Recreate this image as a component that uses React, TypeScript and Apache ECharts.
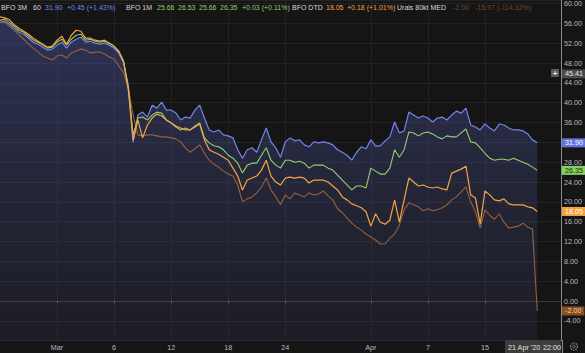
import React, { useEffect, useRef } from "react";
import * as echarts from "echarts";

// ---- data ----
const tradingDays = [
  "2020-02-25", "2020-02-26", "2020-02-27", "2020-02-28",
  "2020-03-02", "2020-03-03", "2020-03-04", "2020-03-05", "2020-03-06",
  "2020-03-09", "2020-03-10", "2020-03-11", "2020-03-12", "2020-03-13",
  "2020-03-16", "2020-03-17", "2020-03-18", "2020-03-19", "2020-03-20",
  "2020-03-23", "2020-03-24", "2020-03-25", "2020-03-26", "2020-03-27",
  "2020-03-30", "2020-03-31", "2020-04-01", "2020-04-02", "2020-04-03",
  "2020-04-06", "2020-04-07", "2020-04-08", "2020-04-09",
  "2020-04-14", "2020-04-15", "2020-04-16", "2020-04-17",
  "2020-04-20", "2020-04-21", "2020-04-22",
];
const sessions = ["02:00", "10:00", "18:00"];
const tickDates = ["2020-03-02", "2020-03-06", "2020-03-12", "2020-03-18", "2020-03-24", "2020-04-01", "2020-04-07", "2020-04-15"];
const tickLabels = ["Mar", "6", "12", "18", "24", "Apr", "7", "15"];

const bfo3m = [
  56.2, 56.4, 55.8, 55.0, 54.2, 53.8, 53.0, 52.2, 51.8, 51.2,
  50.6, 50.8, 51.6, 52.2, 51.0, 52.2, 52.8, 53.2, 52.2, 52.4,
  52.0, 51.8, 52.0, 51.6, 51.0, 50.0, 48.0, 43.5, 32.0, 37.5,
  38.1, 37.1, 39.5, 38.9, 40.1, 38.5, 38.5, 37.9, 36.5, 37.1,
  36.9, 38.5, 39.5, 36.9, 34.5, 34.1, 34.5, 33.5, 33.3, 32.9,
  30.5, 28.8, 30.5, 30.9, 30.0, 32.5, 34.9, 32.1, 30.9, 29.0,
  32.1, 32.9, 32.3, 32.5, 31.5, 31.1, 32.1, 31.9, 32.1, 31.9,
  31.5, 30.5, 30.0, 29.4, 28.4, 30.0, 31.1, 30.7, 32.5, 31.3,
  31.3, 32.3, 33.1, 36.1, 33.9, 34.3, 38.1, 37.5, 36.9, 37.3,
  36.9, 36.1, 36.9, 37.1, 36.5, 37.5, 38.3, 37.9, 38.9, 35.5,
  35.1, 34.5, 35.7, 34.9, 34.3, 35.7, 35.5, 34.9, 34.5, 34.5,
  34.3, 33.7, 32.5, 31.9,
];
const bfo1m = [
  56.6, 56.8, 56.2, 55.4, 54.6, 54.2, 53.4, 52.6, 52.2, 51.6,
  51.0, 51.2, 52.2, 52.8, 51.6, 52.8, 53.6, 53.8, 52.6, 52.8,
  52.4, 52.2, 52.4, 52.0, 51.4, 50.4, 48.4, 43.0, 33.5, 36.9,
  37.1, 36.5, 37.5, 38.1, 37.9, 36.5, 35.9, 35.1, 34.5, 34.9,
  34.5, 35.3, 35.9, 32.9, 31.9, 31.3, 31.1, 30.5, 29.4, 28.8,
  27.8, 25.8, 27.4, 27.8, 27.8, 29.4, 30.9, 28.4, 27.4, 26.8,
  28.4, 28.4, 28.0, 28.2, 27.8, 26.8, 27.4, 27.4, 27.4, 26.8,
  26.4, 25.4, 24.4, 23.4, 22.4, 23.2, 23.2, 22.8, 26.8, 26.2,
  25.6, 25.6, 26.8, 30.5, 29.0, 30.5, 34.1, 33.9, 33.3, 33.9,
  34.1, 33.7, 33.1, 32.7, 33.3, 33.1, 33.1, 33.9, 34.7, 32.1,
  31.9, 30.9, 29.8, 28.8, 28.4, 28.6, 28.6, 28.4, 28.8, 28.4,
  28.0, 27.6, 27.0, 26.35,
];
const bfoDtd = [
  57.3, 57.1, 56.7, 55.7, 55.0, 54.4, 53.8, 53.0, 52.4, 51.8,
  51.2, 51.4, 52.6, 53.4, 51.8, 53.6, 54.6, 54.4, 53.0, 53.0,
  52.6, 52.4, 52.6, 52.0, 51.4, 50.2, 48.2, 42.5, 32.5, 36.5,
  32.9, 35.5, 36.9, 37.7, 37.3, 36.5, 35.9, 35.3, 34.9, 34.5,
  34.5, 35.1, 35.7, 32.5, 30.5, 30.0, 29.6, 29.0, 28.4, 26.8,
  25.2, 22.4, 24.4, 24.8, 25.2, 26.4, 28.4, 25.2, 24.0, 23.4,
  24.8, 25.0, 24.8, 25.0, 24.8, 23.8, 24.4, 24.4, 24.4, 24.0,
  23.2, 22.4, 21.0, 20.4, 19.6, 19.2, 18.8, 18.0, 15.1, 17.6,
  15.9, 15.5, 16.3, 20.4, 15.9, 20.4, 24.8, 24.0, 23.2, 23.4,
  23.0, 22.8, 23.0, 22.6, 22.4, 25.8, 26.2, 26.6, 27.2, 21.4,
  20.8, 15.5, 22.2, 21.4, 20.4, 20.2, 20.6, 19.6, 19.4, 19.4,
  19.4, 19.0, 18.8, 18.05,
];
const urals = [
  56.2, 56.2, 55.4, 54.6, 53.6, 52.8, 51.8, 51.0, 50.2, 49.4,
  49.0, 48.6, 49.4, 49.6, 49.0, 50.0, 50.4, 50.8, 50.6, 50.0,
  50.2, 50.2, 49.8, 49.2, 48.8, 47.4, 46.0, 42.9, 37.5, 33.5,
  33.3, 33.5, 33.5, 33.3, 33.1, 33.1, 32.9, 32.7, 32.1, 30.9,
  30.0, 30.7, 31.5, 29.8, 28.4, 27.6, 27.0, 26.2, 25.6, 25.2,
  23.4, 20.0, 20.6, 21.0, 21.8, 23.0, 24.8, 22.4, 21.0, 19.4,
  21.4, 20.6, 21.8, 21.4, 21.0, 21.8, 21.4, 21.6, 22.2, 21.2,
  20.4, 18.6, 17.8, 16.7, 15.7, 14.9, 14.3, 13.5, 12.9, 12.3,
  11.5, 11.5, 12.7, 13.5, 15.3, 18.4, 19.8, 19.4, 19.0, 18.2,
  18.6, 18.2, 18.4, 18.8, 19.4, 20.4, 21.0, 22.0, 23.0, 20.0,
  18.0, 14.7, 18.4, 17.3, 16.5, 17.6, 15.9, 14.7, 14.9, 15.1,
  15.7, 14.9, 14.5, -2.0,
];
const crosshairValue = 45.41;

const legend3m = ["BFO 3M", "60", "31.90", "+0.45 (+1.43%)"];
const legend1m = ["BFO 1M", "25.66", "26.53", "25.66", "26.35", "+0.03 (+0.11%)"];
const legendDtd = ["BFO DTD", "18.05", "+0.18 (+1.01%)"];
const legendUrals = ["Urals 80kt MED", "-2.00", "-15.97", "(-114.32%)"];
const cursorDate = ["21 Apr '20", "22:00"];

// ---- style ----
const BG = "#151515";
const FONT = "'Liberation Sans', Arial, sans-serif";
const TXT = "#d6d8de";
const C3M = "#7485ea";
const C1M = "#93d06d";
const CDTD = "#f3a445";
const CURALS = "#96603d";
const CURALS_DIM = "#6e4a2a";

export default function App() {
  const ref = useRef<HTMLDivElement>(null);

  useEffect(() => {
    document.body.style.margin = "0";
    document.body.style.background = BG;
    const chart = echarts.init(ref.current!, null, { renderer: "svg" });

    const categories = tradingDays.flatMap((d) => sessions.map((s) => `${d} ${s}`)).slice(0, 119);
    const isTick = (_i: number, v: string) => v.endsWith(sessions[0]) && tickDates.includes(v.slice(0, 10));

    const tag = (value: number, bg: string, fg: string, dy = 0) => ({
      yAxis: value,
      label: {
        show: true,
        position: "end",
        distance: 1,
        offset: [0, dy],
        formatter: value.toFixed(2),
        backgroundColor: bg,
        color: fg,
        opacity: 1,
        fontSize: 7.2,
        fontFamily: FONT,
        padding: [1.5, 3, 0.5, 3],
      },
    });
    const markLine = (items: any[]) => ({
      silent: true,
      symbol: "none",
      animation: false,
      emphasis: { disabled: true },
      lineStyle: { width: 0, color: "rgba(0,0,0,0)", type: "solid" },
      data: items,
    });

    const lt = (x: number, text: string, color: string) => ({
      type: "text",
      x,
      y: 7,
      style: { text, fill: color, fontSize: 7, fontFamily: FONT, textVerticalAlign: "middle" },
      z: 100,
    });

    const option: any = {
      animation: false,
      backgroundColor: BG,
      grid: { left: 0, right: 23, top: 0, bottom: 12.3 },
      xAxis: {
        type: "category",
        data: categories,
        boundaryGap: false,
        axisLine: { show: true, lineStyle: { color: "#3a3a3a" } },
        axisTick: { show: true, interval: isTick, length: 2, lineStyle: { color: "#777" } },
        axisLabel: {
          interval: isTick,
          formatter: (v: string) => tickLabels[tickDates.indexOf(v.slice(0, 10))],
          color: "#b7b9c0",
          fontSize: 7.2,
          fontFamily: FONT,
          margin: 3,
        },
        splitLine: { show: true, interval: isTick, lineStyle: { color: "#232323", width: 1 } },
      },
      yAxis: {
        type: "value",
        position: "right",
        min: -8,
        max: 60.7,
        interval: 4,
        axisLine: { show: true, lineStyle: { color: "#8a8a8a" } },
        axisTick: { show: false },
        axisLabel: {
          color: "#b7b9c0",
          fontSize: 7.2,
          fontFamily: FONT,
          margin: 3,
          showMaxLabel: false,
          showMinLabel: false,
          formatter: (v: number) => v.toFixed(2),
        },
        splitLine: { show: true, lineStyle: { color: "#232323", width: 1 } },
      },
      series: [
        {
          name: "BFO 3M",
          type: "line",
          data: bfo3m,
          showSymbol: false,
          symbol: "none",
          lineStyle: { color: C3M, width: 1.2 },
          areaStyle: {
            origin: "start",
            color: new echarts.graphic.LinearGradient(0, 0, 0, 1, [
              { offset: 0, color: "rgba(82,94,180,0.58)" },
              { offset: 1, color: "rgba(58,62,100,0.28)" },
            ]),
          },
          z: 2,
          markLine: markLine([
            tag(bfo3m[bfo3m.length - 1], "#6474d8", "#ffffff"),
            tag(crosshairValue, "#4a4a4a", "#e6e6e6", -2),
          ]),
        },
        {
          name: "Urals 80kt MED",
          type: "line",
          data: urals,
          showSymbol: false,
          symbol: "none",
          lineStyle: { color: CURALS, width: 1.1 },
          z: 3,
          markLine: markLine([tag(urals[urals.length - 1], "#8a4f1e", "#f8cfa0")]),
        },
        {
          name: "BFO 1M",
          type: "line",
          data: bfo1m,
          showSymbol: false,
          symbol: "none",
          lineStyle: { color: C1M, width: 1.1 },
          z: 4,
          markLine: markLine([tag(bfo1m[bfo1m.length - 1], "#86d060", "#1b2a12")]),
        },
        {
          name: "BFO DTD",
          type: "line",
          data: bfoDtd,
          showSymbol: false,
          symbol: "none",
          lineStyle: { color: CDTD, width: 1.2 },
          z: 5,
          markLine: markLine([tag(bfoDtd[bfoDtd.length - 1], "#f2a23e", "#ffffff")]),
        },
      ],
      graphic: [
        lt(1, legend3m[0], TXT),
        lt(33, legend3m[1], TXT),
        lt(45, legend3m[2], C3M),
        lt(67, legend3m[3], C3M),
        lt(126, legend1m[0], TXT),
        lt(157, legend1m[1], C1M),
        lt(178, legend1m[2], C1M),
        lt(199, legend1m[3], C1M),
        lt(220, legend1m[4], C1M),
        lt(242, legend1m[5], C1M),
        lt(292, legendDtd[0], TXT),
        lt(326, legendDtd[1], CDTD),
        lt(347, legendDtd[2], CDTD),
        lt(397, legendUrals[0], TXT),
        lt(453, legendUrals[1], CURALS_DIM),
        lt(475, legendUrals[2], CURALS_DIM),
        lt(497, legendUrals[3], CURALS_DIM),
        // crosshair "+" button
        {
          type: "rect",
          shape: { x: 551, y: 69, width: 8, height: 8, r: 1 },
          style: { fill: "#5a5a5a" },
          z: 100,
        },
        {
          type: "text",
          x: 555,
          y: 73,
          style: { text: "+", fill: "#f0f0f0", fontSize: 8, fontFamily: FONT, textAlign: "center", textVerticalAlign: "middle", fontWeight: "bold" },
          z: 101,
        },
        // cursor date box
        {
          type: "rect",
          shape: { x: 505, y: 340, width: 56, height: 13 },
          style: { fill: "#3d3d3d" },
          z: 100,
        },
        {
          type: "text",
          x: 508,
          y: 347,
          style: { text: cursorDate[0], fill: "#e0e0e0", fontSize: 7.2, fontFamily: FONT, textVerticalAlign: "middle" },
          z: 101,
        },
        {
          type: "text",
          x: 543,
          y: 347,
          style: { text: cursorDate[1], fill: "#e0e0e0", fontSize: 7.2, fontFamily: FONT, textVerticalAlign: "middle" },
          z: 101,
        },
        {
          type: "line",
          shape: { x1: 562.5, y1: 340, x2: 562.5, y2: 353 },
          style: { stroke: "#8a8a8a", lineWidth: 1 },
          z: 100,
        },
        // gear icon
        {
          type: "circle",
          shape: { cx: 574, cy: 346.5, r: 3.5 },
          style: { fill: "none", stroke: "#8a8a8a", lineWidth: 1.2, lineDash: [1.5, 1] },
          z: 100,
        },
        {
          type: "circle",
          shape: { cx: 574, cy: 346.5, r: 1.3 },
          style: { fill: "none", stroke: "#8a8a8a", lineWidth: 0.8 },
          z: 100,
        },
      ],
    };

    chart.setOption(option);
    return () => chart.dispose();
  }, []);

  return (
    <div
      ref={ref}
      style={{ position: "absolute", left: 0, top: 0, width: 585, height: 353, background: BG }}
    />
  );
}
